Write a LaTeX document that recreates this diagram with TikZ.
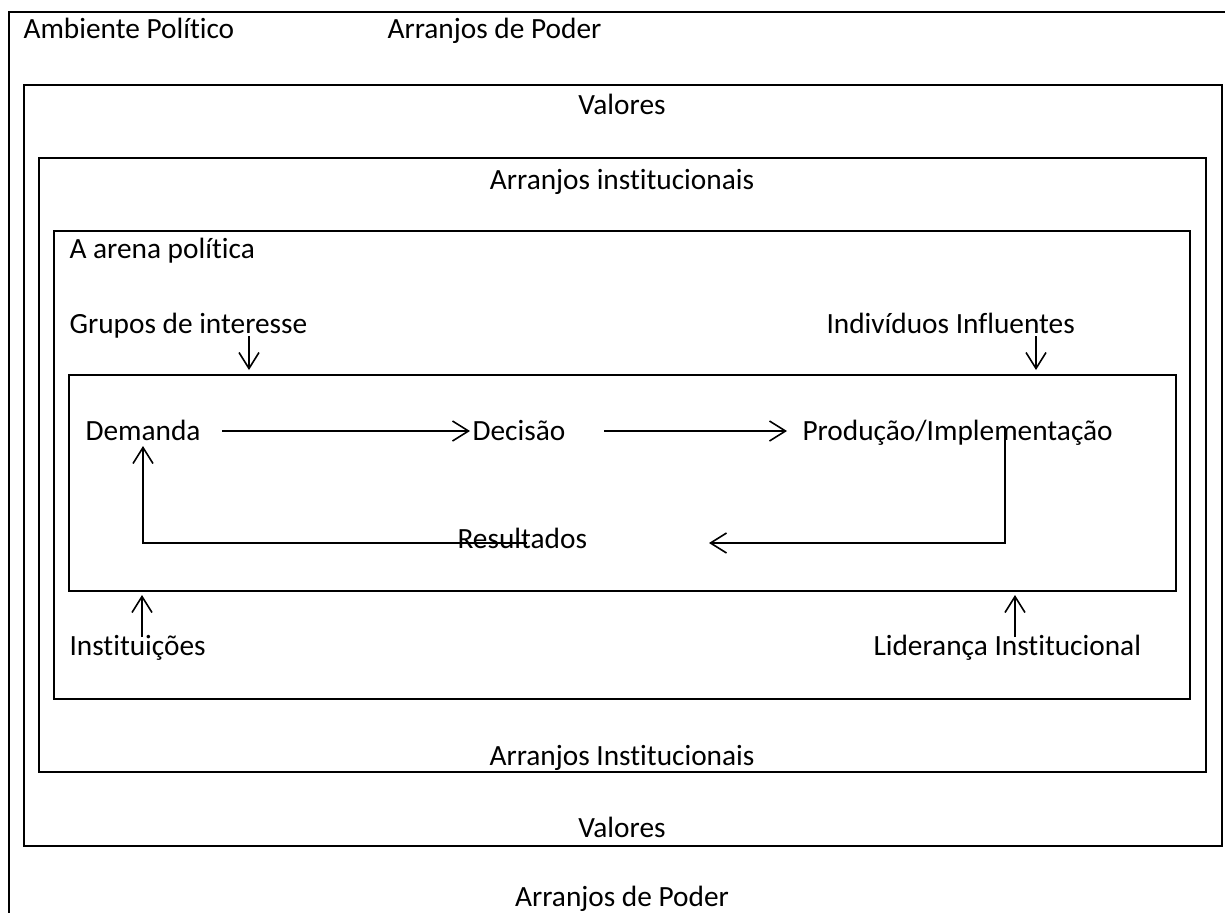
\documentclass[tikz,border=0pt]{standalone}
\usepackage{fontspec}
\setmainfont{Carlito}[Ligatures=NoCommon]
\usetikzlibrary{arrows.meta}
\tikzset{
  caixa/.style={line width=1.1pt},
  seta/.style={-{Straight Barb[length=6pt,width=7.5pt]}, line width=0.6pt},
  rotulo/.style={inner sep=0pt, font=\fontsize{11}{13}\selectfont},
}
\begin{document}
\begin{tikzpicture}[x=0.375pt,y=-0.375pt]
  \useasboundingbox (0,0) rectangle (1225,913);
  % molduras
  \draw[caixa] (1225,12) -- (9,12) -- (9,913);
  \draw[caixa] (24,85) rectangle (1222,846);
  \draw[caixa] (39,158) rectangle (1206,772);
  \draw[caixa] (54,231) rectangle (1190,699);
  \draw[caixa] (69,375) rectangle (1176,591);
  % textos
  \path
    (23,38) node[rotulo,anchor=base west] (ambiente) {Ambiente Político}
    (387,38) node[rotulo,anchor=base west] (poder1) {Arranjos de Poder}
    (622,114) node[rotulo,anchor=base] (valores1) {Valores}
    (622,189) node[rotulo,anchor=base] (inst1) {Arranjos institucionais}
    (69,258) node[rotulo,anchor=base west] (arena) {A arena política}
    (69,333) node[rotulo,anchor=base west] (grupos) {Grupos de interesse}
    (826,333) node[rotulo,anchor=base west] (individuos) {Indivíduos Influentes}
    (85,440) node[rotulo,anchor=base west] (demanda) {Demanda}
    (472,440) node[rotulo,anchor=base west] (decisao) {Decisão}
    (802,440) node[rotulo,anchor=base west] (producao) {Produção/Implementação}
    (457,548) node[rotulo,anchor=base west] (resultados) {Resultados}
    (69,655) node[rotulo,anchor=base west] (instituicoes) {Instituições}
    (873,655) node[rotulo,anchor=base west] (lideranca) {Liderança Institucional}
    (622,765) node[rotulo,anchor=base] (inst2) {Arranjos Institucionais}
    (622,837) node[rotulo,anchor=base] (valores2) {Valores}
    (622,906) node[rotulo,anchor=base] (poder2) {Arranjos de Poder};
  % pontas das setas
  \coordinate (g1) at (249,336);
  \coordinate (g2) at (249,370);
  \coordinate (i1) at (1036,336);
  \coordinate (i2) at (1036,370);
  \coordinate (d1) at (222,431);
  \coordinate (d2) at (470,431);
  \coordinate (p1) at (604,431);
  \coordinate (p2) at (787,431);
  \coordinate (r1) at (1005,428);
  \coordinate (r2) at (1005,543);
  \coordinate (r3) at (709,543);
  \coordinate (e1) at (527,543);
  \coordinate (e2) at (143,543);
  \coordinate (e3) at (143,446);
  \coordinate (n1) at (142,637);
  \coordinate (n2) at (142,595);
  \coordinate (l1) at (1015,637);
  \coordinate (l2) at (1015,595);
  \begin{scope}[seta]
    \draw (g1) to (g2);
    \draw (i1) to (i2);
    \draw (d1) to (d2);
    \draw (p1) to (p2);
    \draw (r1) -- (r2) -- (r3);
    \draw (e1) -- (e2) -- (e3);
    \draw (n1) to (n2);
    \draw (l1) to (l2);
  \end{scope}
\end{tikzpicture}
\end{document}
